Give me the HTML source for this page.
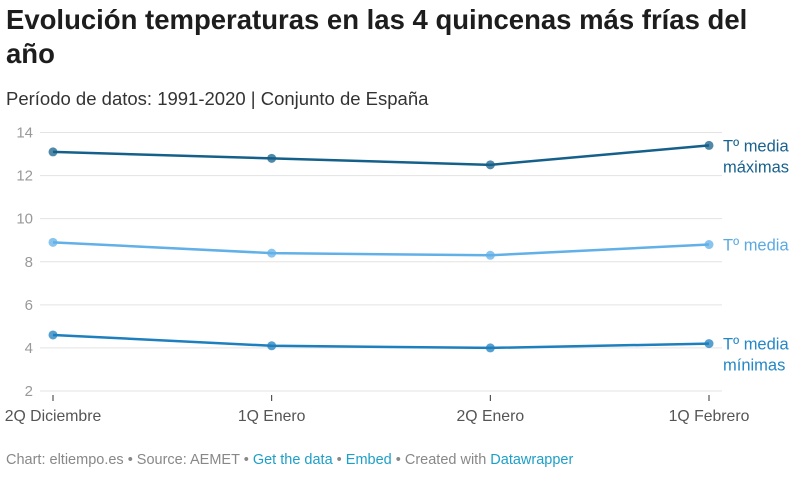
<!DOCTYPE html>
<html><head><meta charset="utf-8"><style>
body{margin:0;background:#fff;font-family:"Liberation Sans",sans-serif;width:800px;height:481px;overflow:hidden;position:relative}
h1{position:absolute;left:6px;top:3px;margin:0;font-size:27.5px;line-height:34px;font-weight:bold;color:#1d1d1d;width:770px}
.sub{position:absolute;left:6px;top:88px;font-size:18.5px;color:#333}
.foot{position:absolute;left:6px;top:452px;font-size:14.5px;color:#888}
.foot a{color:#1d9fc7;text-decoration:none}
</style></head><body>
<h1>Evolución temperaturas en las 4 quincenas más frías del año</h1>
<div class="sub">Período de datos: 1991-2020 | Conjunto de España</div>
<svg id="c" width="800" height="481" style="position:absolute;left:0;top:0"></svg>
<div class="foot">Chart: eltiempo.es • Source: AEMET • <a>Get the data</a> • <a>Embed</a> • Created with <a>Datawrapper</a></div>
<script>
const categories=["2Q Diciembre","1Q Enero","2Q Enero","1Q Febrero"];
const maxVals=[13.1,12.8,12.5,13.4];
const meanVals=[8.9,8.4,8.3,8.8];
const minVals=[4.6,4.1,4.0,4.2];
const yTicks=[2,4,6,8,10,12,14];
const seriesNames=[["Tº media","máximas"],["Tº media"],["Tº media","mínimas"]];
const NS="http://www.w3.org/2000/svg",svg=document.getElementById('c');
const x=i=>53+i*(709-53)/(categories.length-1);
const y=v=>391-(v-2)*(391-132.5)/12;
function mk(t,a){const e=document.createElementNS(NS,t);for(const k in a)e.setAttribute(k,a[k]);svg.appendChild(e);return e;}
yTicks.forEach(t=>{
 const g=mk('line',{x1:40,x2:722,y1:y(t),y2:y(t),stroke:'#e3e3e3','stroke-width':1});
 
 
 const l=mk('text',{x:33,y:y(t)+5,'text-anchor':'end','font-size':15,fill:'#999','font-family':'Liberation Sans'});
 l.textContent=t;
 
 
});
categories.forEach((c,i)=>{
 const tk=mk('line',{x1:x(i),x2:x(i),y1:395,y2:401,stroke:'#333','stroke-width':1});
 
 
 const l=mk('text',{x:x(i),y:421,'text-anchor':'middle','font-size':15.8,fill:'#555','font-family':'Liberation Sans'});
 l.textContent=c;
 
 
});
const series=[[maxVals,'#15608b','#18628e'],[meanVals,'#62b0e8','#5aaae2'],[minVals,'#1d7fbd','#2487c6']];
series.forEach(([vals,col,tc],s)=>{
 const p=mk('polyline',{points:vals.map((v,i)=>x(i)+','+y(v)).join(' '),fill:'none',stroke:col,'stroke-width':2.5});
 
 
 vals.forEach((v,i)=>{
  const d=mk('circle',{cx:x(i),cy:y(v),r:4.5,fill:col,'fill-opacity':0.75});
  
  
 });
 const lines=seriesNames[s],ly=y(vals[vals.length-1]);
 lines.forEach((t,k)=>{
  const l=mk('text',{x:723,y:ly+6+k*21,'font-size':16.5,fill:tc,'font-family':'Liberation Sans'});
  l.textContent=t;
  
  
 });
});
</script>
</body></html>
